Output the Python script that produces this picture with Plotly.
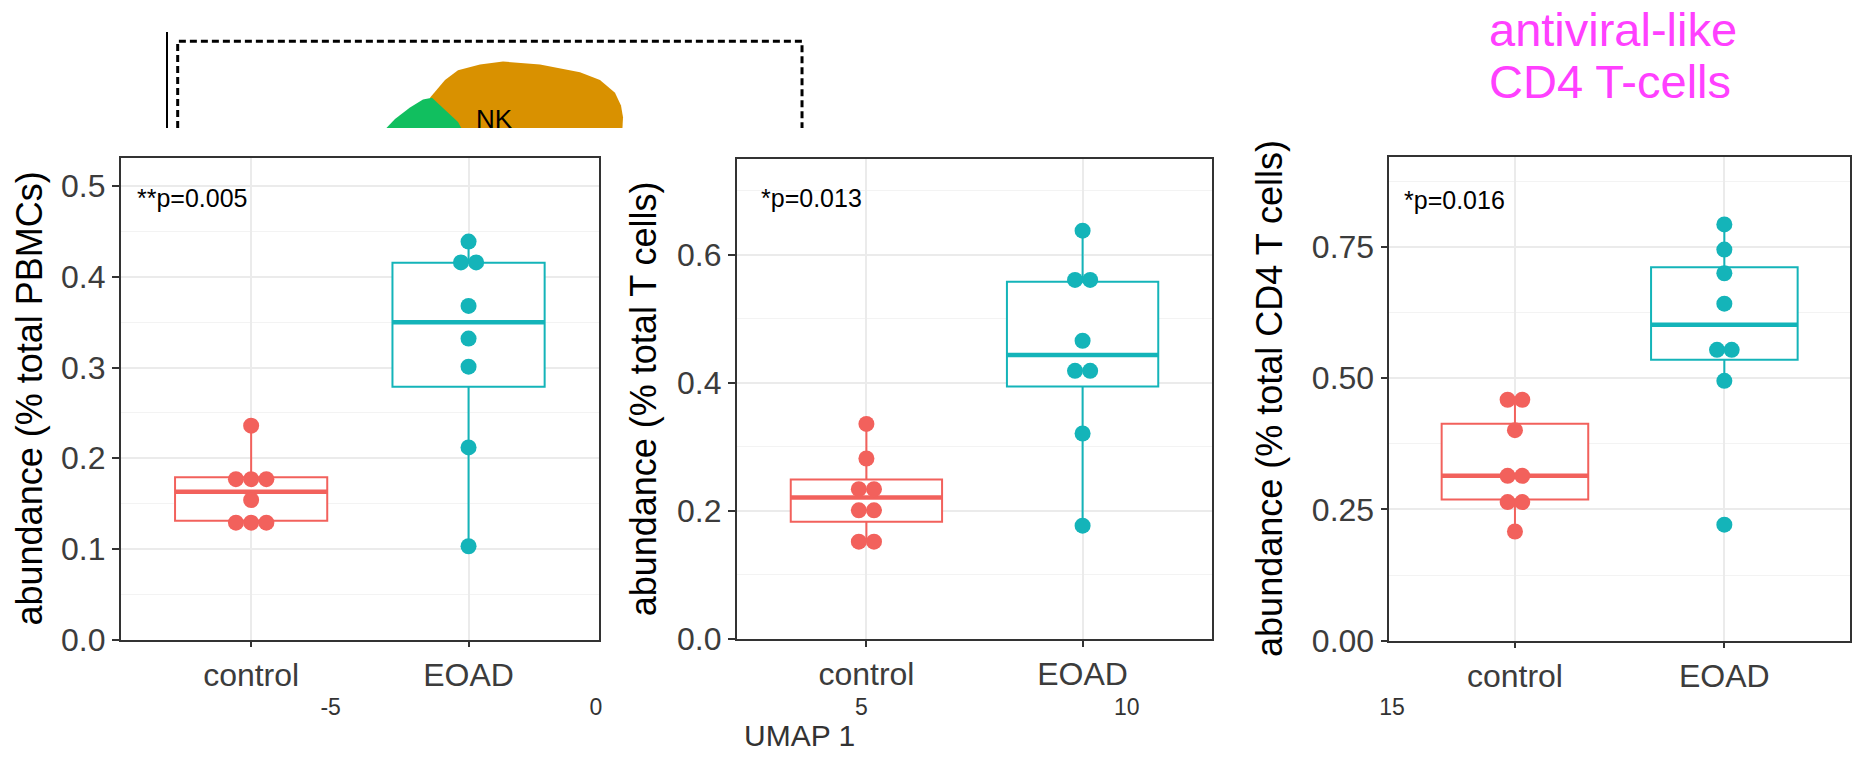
import plotly.graph_objects as go
from collections import Counter

# ---------------- data ----------------
groups = ["control", "EOAD"]
group_pos = [1, 2]

p1_control = [0.236, 0.177, 0.177, 0.177, 0.154, 0.129, 0.129, 0.129]
p1_eoad = [0.439, 0.416, 0.416, 0.368, 0.332, 0.301, 0.212, 0.103]
p2_control = [0.336, 0.282, 0.234, 0.234, 0.201, 0.201, 0.152, 0.152]
p2_eoad = [0.638, 0.561, 0.561, 0.466, 0.419, 0.419, 0.321, 0.177]
p3_control = [0.459, 0.459, 0.401, 0.314, 0.314, 0.264, 0.264, 0.208]
p3_eoad = [0.793, 0.745, 0.700, 0.642, 0.554, 0.554, 0.495, 0.221]

# box statistics: q1, median, q3, lower whisker end, upper whisker end
p1_box_control = [0.131, 0.163, 0.179, 0.129, 0.236]
p1_box_eoad = [0.279, 0.350, 0.4155, 0.103, 0.439]
p2_box_control = [0.183, 0.221, 0.249, 0.152, 0.336]
p2_box_eoad = [0.3946, 0.4436, 0.558, 0.177, 0.638]
p3_box_control = [0.269, 0.314, 0.413, 0.208, 0.459]
p3_box_eoad = [0.535, 0.602, 0.7115, 0.495, 0.793]

p_labels = ["**p=0.005", "*p=0.013", "*p=0.016"]
y_titles = ["abundance (% total PBMCs)", "abundance (% total T cells)",
            "abundance (% total CD4 T cells)"]

# UMAP background fragment (UMAP coordinates)
umap_ticks = [-5, 0, 5, 10, 15]
umap_ticktext = ["-5", "0", "5", "10", "15"]
nk_x = [-3.128, -2.845, -2.600, -2.186, -1.752, -1.055, -0.302, 0.075, 0.358, 0.471, 0.509, 0.490, -2.900, -3.128]
nk_y = [12.724, 13.063, 13.252, 13.365, 13.422, 13.365, 13.214, 13.063, 12.819, 12.574, 12.347, 11.971, 11.971, 12.724]
green_x = [-4.108, -3.787, -3.505, -3.260, -3.090, -2.845, -2.600, -2.450, -4.108]
green_y = [11.971, 12.310, 12.536, 12.687, 12.724, 12.498, 12.253, 11.971, 11.971]
gate_x = [-7.882, -7.882, 3.882, 3.882]
gate_y = [11.5, 13.812, 13.812, 11.5]

RED = "#F2615C"
TEAL = "#14B4B9"
FONT = "Liberation Sans, Arial, Helvetica, sans-serif"
TICKC = "#3C3C3C"
W, H = 1856, 769

panels = [
    dict(ctrl=p1_control, eoad=p1_eoad, bc=p1_box_control, be=p1_box_eoad,
         xd=[120.7, 599.0], yd=[655.0, 161.7], yr=[0, 0.5312], dt=0.1, fmt=".1f",
         title_x=29.7, p_xy=(0.468, 0.487)),
    dict(ctrl=p2_control, eoad=p2_eoad, bc=p2_box_control, be=p2_box_eoad,
         xd=[736.7, 1212.3], yd=[654.3, 162.5], yr=[0, 0.7504], dt=0.2, fmt=".1f",
         title_x=643.5, p_xy=(0.505, 0.689)),
    dict(ctrl=p3_control, eoad=p3_eoad, bc=p3_box_control, be=p3_box_eoad,
         xd=[1389.3, 1850.0], yd=[656.0, 161.0], yr=[0, 0.921], dt=0.25, fmt=".2f",
         title_x=1270.0, p_xy=(0.460, 0.840)),
]

fig = go.Figure()
layout = dict(width=W, height=H, autosize=False, margin=dict(l=0, r=0, t=0, b=0, pad=0),
              paper_bgcolor="white", plot_bgcolor="white", showlegend=False,
              font=dict(family=FONT), annotations=[])

BOXW = 0.7
STEP = 0.07

for i, pn in enumerate(panels):
    n = i + 1
    xa = "x" if n == 1 else f"x{n}"
    ya = "y" if n == 1 else f"y{n}"
    for pos, vals, stats, col in [(1, pn["ctrl"], pn["bc"], RED), (2, pn["eoad"], pn["be"], TEAL)]:
        q1, med, q3, lo, hi = stats
        fig.add_trace(go.Box(x=[pos], q1=[q1], median=[med], q3=[q3], lowerfence=[lo],
                             upperfence=[hi], width=BOXW, whiskerwidth=0,
                             fillcolor="white", line=dict(color=col, width=2),
                             boxpoints=False, hoverinfo="skip", xaxis=xa, yaxis=ya))
        fig.add_trace(go.Scatter(x=[pos - BOXW / 2, pos + BOXW / 2], y=[med, med], mode="lines",
                                 line=dict(color=col, width=4.5), hoverinfo="skip",
                                 xaxis=xa, yaxis=ya))
        cnt = Counter(vals)
        seen = Counter()
        xs, ys = [], []
        for v in vals:
            k = seen[v]
            seen[v] += 1
            xs.append(pos + STEP * (k - (cnt[v] - 1) / 2))
            ys.append(v)
        fig.add_trace(go.Scatter(x=xs, y=ys, mode="markers",
                                 marker=dict(color=col, size=16, line=dict(width=0)),
                                 hoverinfo="skip", xaxis=xa, yaxis=ya))
    axk = "xaxis" if n == 1 else f"xaxis{n}"
    ayk = "yaxis" if n == 1 else f"yaxis{n}"
    layout[axk] = dict(domain=[pn["xd"][0] / W, pn["xd"][1] / W], anchor=ya, range=[0.4, 2.6],
                       tickvals=group_pos, ticktext=groups, ticks="outside", ticklen=6,
                       tickwidth=1.5, tickcolor="#333333", showline=True, mirror=True,
                       linecolor="#333333", linewidth=1.5, showgrid=True, gridcolor="#EBEBEB",
                       gridwidth=1.8, zeroline=False, ticklabelstandoff=0,
                       tickfont=dict(size=32, color=TICKC, family=FONT))
    layout[ayk] = dict(domain=[1 - pn["yd"][0] / H, 1 - pn["yd"][1] / H], anchor=xa,
                       range=pn["yr"], dtick=pn["dt"], tick0=0, tickformat=pn["fmt"],
                       ticks="outside", ticklen=7, tickwidth=1.5, tickcolor="#333333",
                       showline=True, mirror=True, linecolor="#333333", linewidth=1.5,
                       showgrid=True, gridcolor="#EBEBEB", gridwidth=1.8, zeroline=False,
                       minor=dict(dtick=pn["dt"] / 2, showgrid=True, gridcolor="#F3F3F3",
                                  gridwidth=1, ticks=""),
                       tickfont=dict(size=32, color=TICKC, family=FONT))
    layout["annotations"].append(dict(text=y_titles[i], xref="paper", x=pn["title_x"] / W,
                                      yref=f"{ya} domain", y=0.5, textangle=-90,
                                      showarrow=False, xanchor="center", yanchor="middle",
                                      font=dict(size=36, color="black", family=FONT)))
    layout["annotations"].append(dict(text=p_labels[i], xref=xa, yref=ya, x=pn["p_xy"][0],
                                      y=pn["p_xy"][1], showarrow=False, xanchor="left",
                                      yanchor="middle",
                                      font=dict(size=25, color="black", family=FONT)))

# ---------------- UMAP background fragment ----------------
fig.add_trace(go.Scatter(x=nk_x, y=nk_y, mode="lines", fill="toself", fillcolor="#D99100",
                         line=dict(width=0, color="#D99100"), hoverinfo="skip",
                         xaxis="x4", yaxis="y4"))
fig.add_trace(go.Scatter(x=green_x, y=green_y, mode="lines", fill="toself", fillcolor="#11BF5F",
                         line=dict(width=0, color="#11BF5F"), hoverinfo="skip",
                         xaxis="x4", yaxis="y4"))
fig.add_trace(go.Scatter(x=gate_x, y=gate_y, mode="lines",
                         line=dict(color="black", width=3, dash="7px,4px"), hoverinfo="skip",
                         xaxis="x4", yaxis="y4"))
layout["xaxis4"] = dict(domain=[168.3 / W, 1.0], range=[-8.059, 23.742], anchor="free",
                        position=1 - 708 / H, showline=False, ticks="", showgrid=False,
                        zeroline=False, tickvals=umap_ticks, ticktext=umap_ticktext,
                        tickfont=dict(size=23, color="#333333", family=FONT))
layout["yaxis4"] = dict(domain=[1 - 131 / H, 1 - 32.3 / H], range=[12.14, 14.0], anchor="x4",
                        showline=True, linecolor="black", linewidth=2, ticks="",
                        showticklabels=False, showgrid=False, zeroline=False)
layout["annotations"].append(dict(text="NK", xref="x4", yref="y4", x=-1.92, y=12.31,
                                  showarrow=False, font=dict(size=26, color="black", family=FONT)))
layout["annotations"].append(dict(text="UMAP 1", xref="paper", yref="paper", x=799 / W,
                                  y=1 - 753 / H, showarrow=False, xanchor="center",
                                  yanchor="middle",
                                  font=dict(size=30, color="#333333", family=FONT)))
layout["annotations"].append(dict(text="antiviral-like", xref="paper", yref="paper",
                                  x=1487 / W, y=1 - 30 / H, showarrow=False, xanchor="left",
                                  yanchor="middle",
                                  font=dict(size=47, color="#FF40FF", family=FONT)))
layout["annotations"].append(dict(text="CD4 T-cells", xref="paper", yref="paper",
                                  x=1487 / W, y=1 - 83 / H, showarrow=False, xanchor="left",
                                  yanchor="middle",
                                  font=dict(size=47, color="#FF40FF", family=FONT)))

fig.update_layout(**layout)
fig.write_html("out.html", config={"displayModeBar": False},
               post_script="document.body.style.margin='0';document.body.style.overflow='hidden';")
